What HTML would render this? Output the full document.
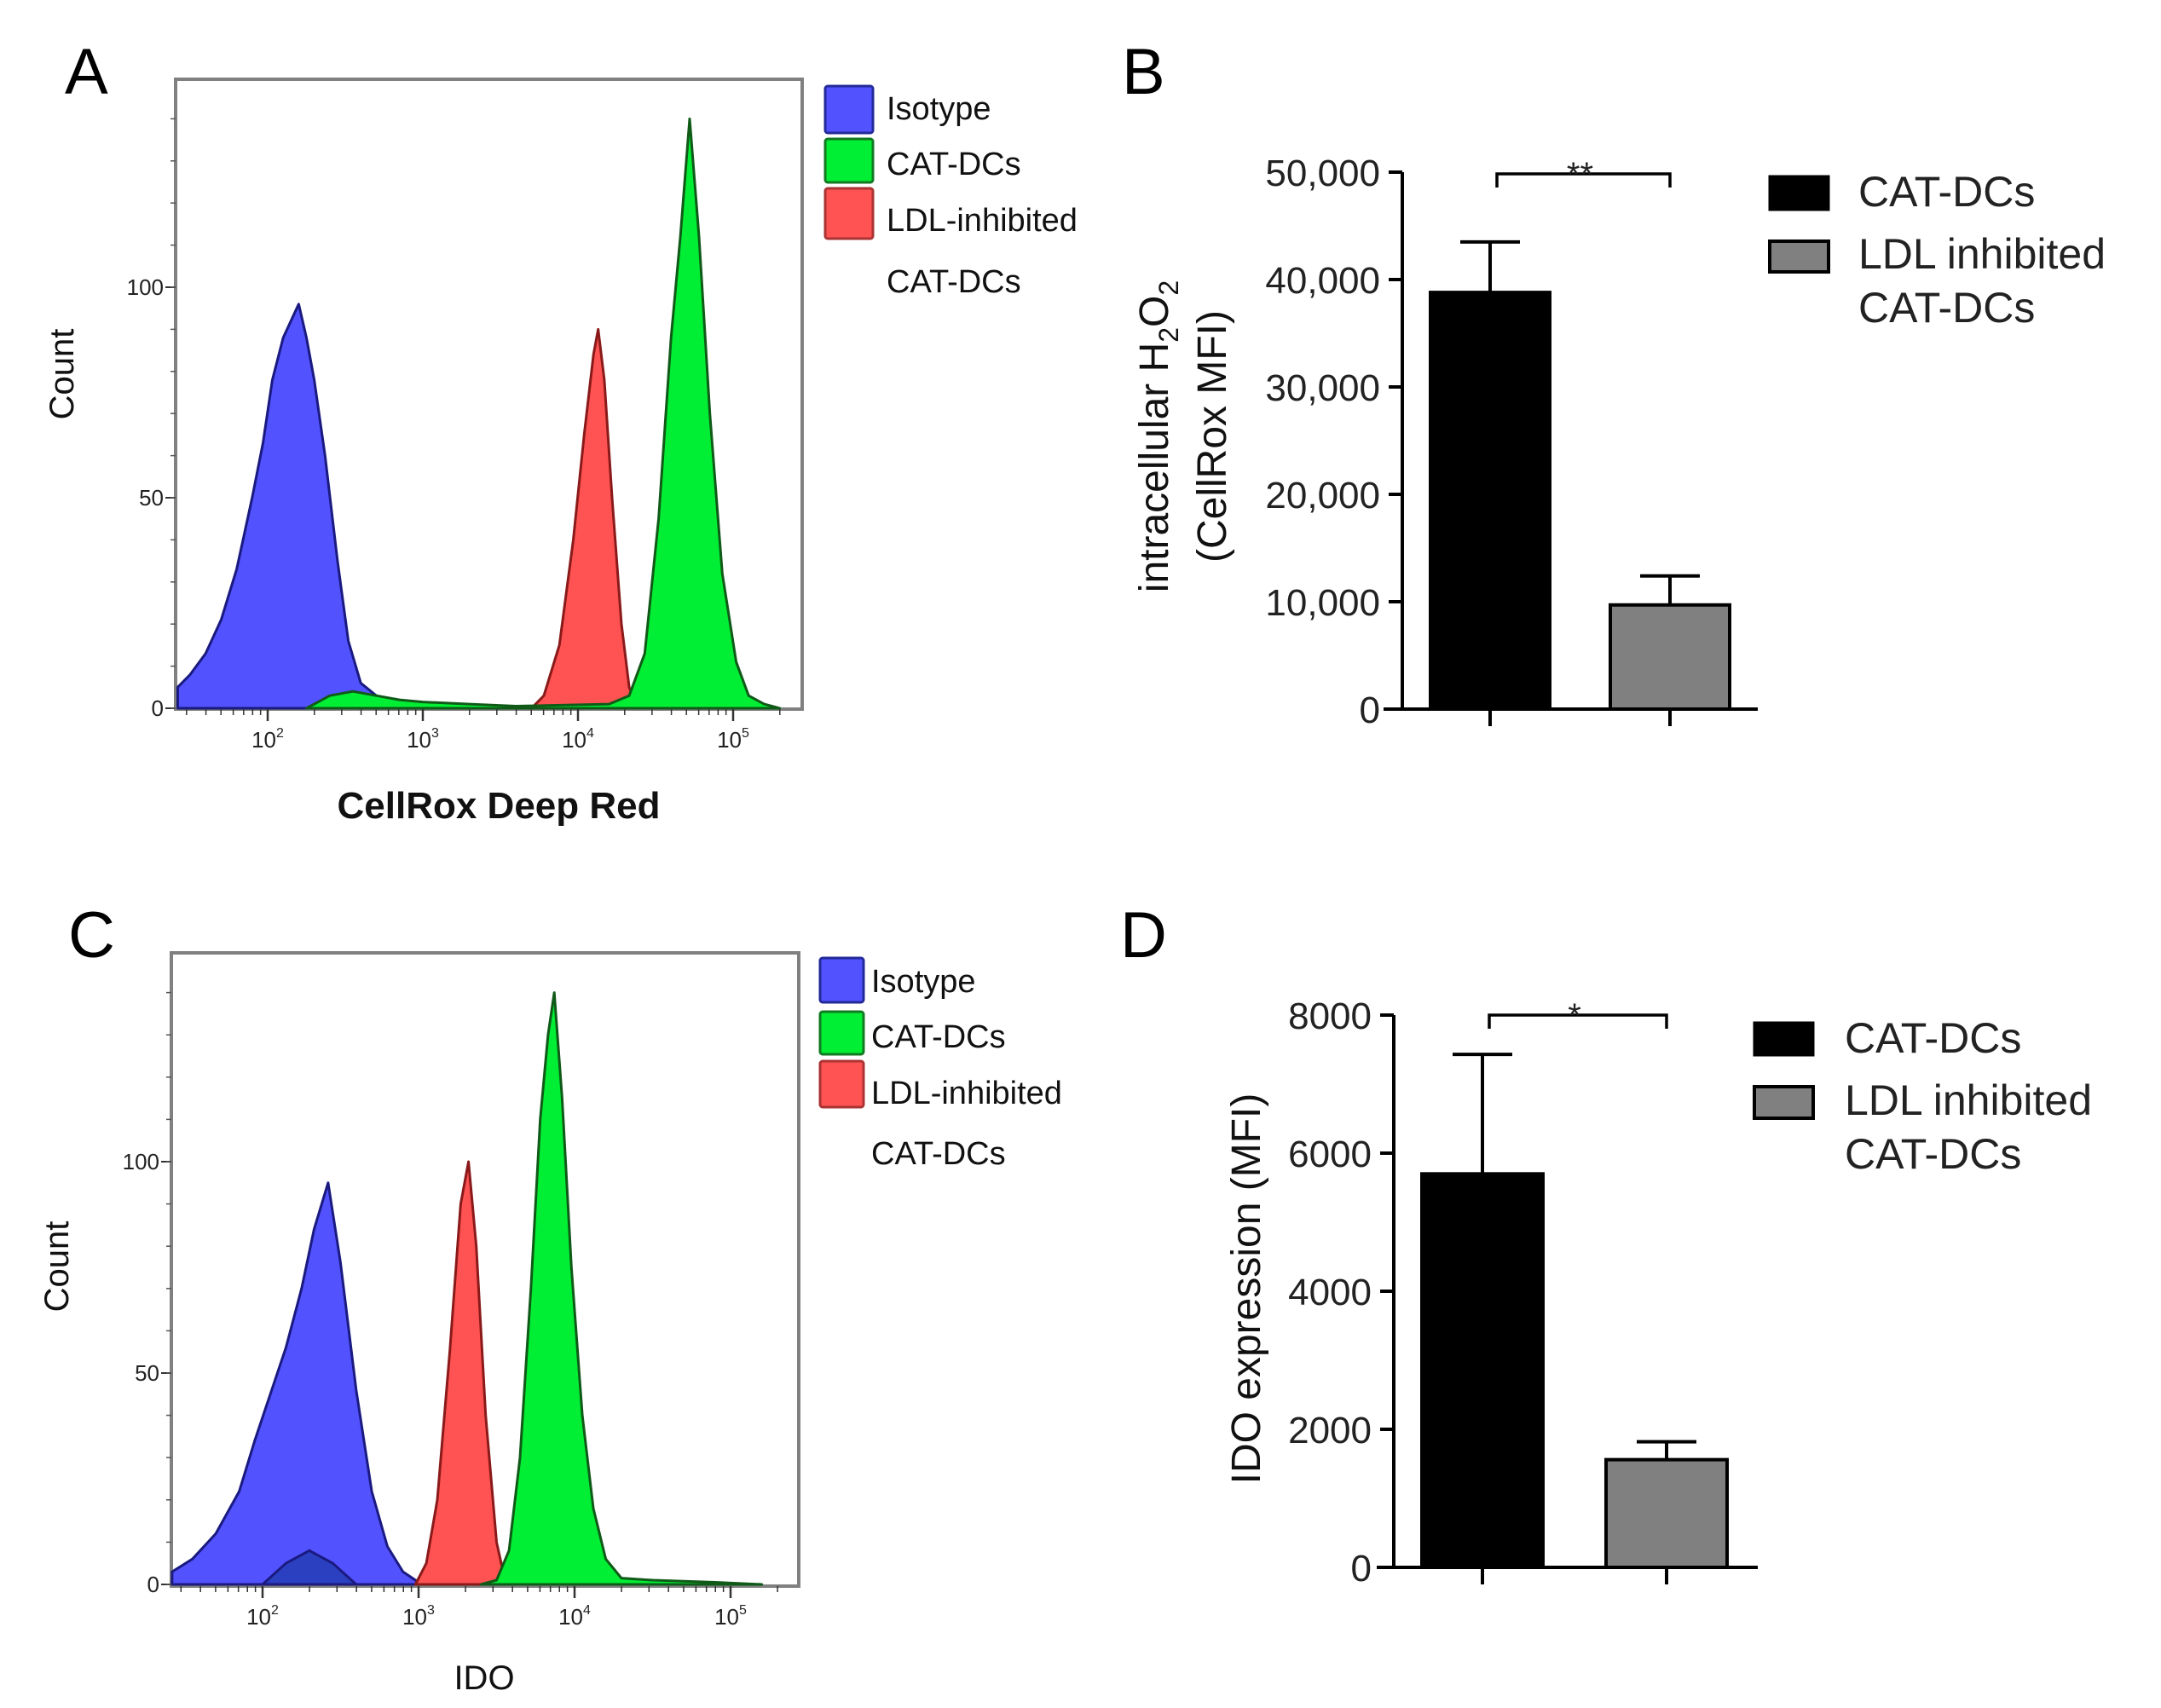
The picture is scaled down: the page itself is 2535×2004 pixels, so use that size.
<!DOCTYPE html>
<html><head><meta charset="utf-8"><style>
html,body{margin:0;padding:0;background:#fff;}
svg{display:block;font-family:"Liberation Sans",Arial,sans-serif;}
</style></head><body>
<svg id="fig" width="2535" height="2004" viewBox="0 0 2535 2004" xmlns="http://www.w3.org/2000/svg"></svg>
<script>
// ---------- data ----------
const decadeTicks = [2, 3, 4, 5];
const countTicks = [0, 50, 100];
// Panel A histograms: [log10 intensity, count]
const aIsotype = [[1.42,5],[1.5,8],[1.6,13],[1.7,21],[1.8,33],[1.9,50],[1.97,63],[2.03,78],[2.1,88],[2.15,92],[2.2,96],[2.25,88],[2.3,78],[2.37,60],[2.45,35],[2.52,16],[2.6,6],[2.7,3],[2.85,1.5],[3.0,1],[3.3,0.5],[3.6,0]];
const aCat = [[2.25,0],[2.4,3],[2.55,4],[2.7,3],[2.85,2],[3.0,1.5],[3.3,1],[3.6,0.5],[4.2,1],[4.33,3],[4.43,13],[4.52,45],[4.6,88],[4.66,112],[4.72,140],[4.78,112],[4.85,70],[4.93,32],[5.02,11],[5.1,3],[5.2,1],[5.3,0]];
const aLdl = [[3.7,0],[3.78,3],[3.88,15],[3.97,40],[4.04,65],[4.1,84],[4.13,90],[4.17,78],[4.22,50],[4.28,20],[4.33,5],[4.38,0]];
// Panel C histograms
const cIsotype = [[1.42,3],[1.55,6],[1.7,12],[1.85,22],[1.95,34],[2.05,45],[2.15,56],[2.25,70],[2.33,84],[2.42,95],[2.5,76],[2.6,46],[2.7,22],[2.8,9],[2.9,3],[3.0,0.5],[3.05,0]];
const cIsoOverlap = [[2.0,0],[2.15,5],[2.3,8],[2.45,5],[2.6,0]];
const cLdl = [[2.98,0],[3.05,5],[3.12,20],[3.2,55],[3.27,90],[3.32,100],[3.37,80],[3.43,40],[3.5,10],[3.56,0]];
const cCat = [[3.4,0],[3.5,1],[3.58,8],[3.65,30],[3.72,70],[3.78,110],[3.83,130],[3.87,140],[3.92,115],[3.98,75],[4.05,40],[4.12,18],[4.2,6],[4.3,1.5],[4.5,1],[4.9,0.5],[5.2,0]];
// Panel B bars
const bCategories = ["CAT-DCs", "LDL inhibited CAT-DCs"];
const bMeans = [38800, 9700];
const bErrors = [4700, 2700];
const bTicks = [0, 10000, 20000, 30000, 40000, 50000];
const bTickLabels = ["0", "10,000", "20,000", "30,000", "40,000", "50,000"];
// Panel D bars
const dCategories = ["CAT-DCs", "LDL inhibited CAT-DCs"];
const dMeans = [5700, 1560];
const dErrors = [1730, 260];
const dTicks = [0, 2000, 4000, 6000, 8000];
const dTickLabels = ["0", "2000", "4000", "6000", "8000"];

const NS = "http://www.w3.org/2000/svg";
const svg = document.getElementById("fig");
function el(tag, attrs, parent, text){
  const e = document.createElementNS(NS, tag);
  for (const k in attrs) e.setAttribute(k, attrs[k]);
  if (text !== undefined) e.textContent = text;
  (parent || svg).appendChild(e);
  return e;
}

// ---------- histogram panel ----------
function histPanel(o){
  const g = el("g", {});
  
  
  const xs = v => o.x10_2 + (v - 2) * o.dec;
  const ys = c => o.y0 - c * o.unit;
  // frame
  const fr = el("rect", {x:o.fl, y:o.ft, width:o.fr-o.fl, height:o.fb-o.ft, fill:"#fff", stroke:"#808080", "stroke-width":4}, g);
  
  
  function drawSeries(pts, fill, stroke, nm){
    let d = "M" + xs(pts[0][0]) + "," + o.y0;
    pts.forEach(p => { d += " L" + xs(p[0]).toFixed(1) + "," + ys(p[1]).toFixed(1); });
    d += " L" + xs(pts[pts.length-1][0]) + "," + o.y0 + " Z";
    const p = el("path", {d:d, fill:fill, stroke:stroke, "stroke-width":3, "stroke-linejoin":"round"}, g);
    
    
  }
  o.series.forEach(s => drawSeries(s[0], s[1], s[2], s[3]));
  // y ticks
  countTicks.forEach(c => {
    el("line", {x1:o.fl-12, x2:o.fl, y1:ys(c), y2:ys(c), stroke:"#333", "stroke-width":2}, g);
    const t = el("text", {x:o.fl-14, y:ys(c)+9, "text-anchor":"end", "font-size":26, fill:"#222"}, g, String(c));
    
    
  });
  for (let c = 0; c <= 140; c += 10) el("line", {x1:o.fl-6, x2:o.fl, y1:ys(c), y2:ys(c), stroke:"#555", "stroke-width":1.5}, g);
  // x ticks (log minor)
  for (let dcd = 1; dcd <= 5; dcd++){
    for (let m = 1; m <= 9; m++){
      const v = dcd + Math.log10(m);
      const x = xs(v);
      if (x < o.fl || x > o.fr) continue;
      el("line", {x1:x, x2:x, y1:o.fb, y2:o.fb + (m===1?14:7), stroke:"#333", "stroke-width":m===1?2.5:1.5}, g);
    }
  }
  decadeTicks.forEach(dcd => {
    const t = el("text", {x:xs(dcd), y:o.fb+45, "text-anchor":"middle", "font-size":26, fill:"#222"}, g);
    
    
    t.appendChild(document.createTextNode("10"));
    el("tspan", {"font-size":16, dy:-12}, t, String(dcd));
  });
  // axis titles
  const xt = el("text", {x:o.xtx, y:o.xty, "text-anchor":"middle", "font-size":o.xtSize, "font-weight":o.xtBold?"bold":"normal", fill:"#111"}, g, o.xTitle);
  
  
  const yt = el("text", {x:0, y:0, transform:`translate(${o.ytx},${o.yty}) rotate(-90)`, "text-anchor":"middle", "font-size":40, fill:"#111"}, g, "Count");
  
  
  // panel letter
  const pl = el("text", {x:o.lx, y:o.ly, "font-size":76, fill:"#000"}, g, o.letter);
  
  
  // legend
  const lg = el("g", {}, g);
  
  
  const cols = [["#5252ff","#222a99"],["#00ee33","#127a22"],["#ff5252","#aa3333"]];
  const labs = ["Isotype","CAT-DCs","LDL-inhibited"];
  o.legRows.forEach((r, i) => {
    const sw = el("rect", {x:o.legX, y:r[0], width:o.legW, height:r[1]-r[0], fill:cols[i][0], stroke:cols[i][1], "stroke-width":3, rx:3}, lg);
    
    
    const t = el("text", {x:o.legTX, y:o.legTY[i]+13, "font-size":38, fill:"#111"}, lg, labs[i]);
    
    
  });
  const t4 = el("text", {x:o.legTX, y:o.legTY[3]+13, "font-size":38, fill:"#111"}, lg, "CAT-DCs");
  
  
}

histPanel({name:"panel-a-histogram", fl:206, fr:941, ft:93, fb:832, y0:831, unit:4.94, x10_2:314, dec:182,
  series:[[aIsotype,"#5252ff","#1a1a80","isotype-histogram"],[aLdl,"#ff5252","#8a1a1a","ldl-inhibited-histogram"],[aCat,"#00ee33","#105a18","cat-dcs-histogram"]],
  xTitle:"CellRox Deep Red", xtx:585, xty:960, xtSize:44, xtBold:true, ytx:86, yty:439, letter:"A", lx:76, ly:110,
  legX:968, legW:56, legRows:[[101,156],[163,214],[221,280]], legTX:1040, legTY:[127,192,258,330]});
histPanel({name:"panel-c-histogram", fl:201, fr:937, ft:1118, fb:1861, y0:1859, unit:4.96, x10_2:308, dec:183,
  series:[[cIsotype,"#5252ff","#1a1a80","isotype-histogram"],[cIsoOverlap,"#2a40c0","#1a1a80","isotype-overlap"],[cLdl,"#ff5252","#8a1a1a","ldl-inhibited-histogram"],[cCat,"#00ee33","#105a18","cat-dcs-histogram"]],
  xTitle:"IDO", xtx:568, xty:1982, xtSize:40, xtBold:false, ytx:80, yty:1486, letter:"C", lx:80, ly:1123,
  legX:962, legW:51, legRows:[[1124,1176],[1187,1237],[1245,1299]], legTX:1022, legTY:[1151,1216,1282,1353]});

// ---------- bar panel ----------
function barPanel(o){
  const g = el("g", {});
  
  
  const ys = v => o.y0 - (v / o.max) * (o.y0 - o.yTop);
  // bars
  o.means.forEach((m, i) => {
    const bx = o.barX[i];
    const cx = bx + o.barW/2;
    const eb = el("line", {x1:cx, x2:cx, y1:ys(m), y2:ys(m + o.errs[i]), stroke:"#000", "stroke-width":4}, g);
    
    
    const cap = el("line", {x1:cx-35, x2:cx+35, y1:ys(m + o.errs[i]), y2:ys(m + o.errs[i]), stroke:"#000", "stroke-width":4}, g);
    
    
    const r = el("rect", {x:bx, y:ys(m), width:o.barW, height:o.y0 - ys(m), fill:i===0?"#000":"#808080", stroke:"#000", "stroke-width":4}, g);
    
    
    el("line", {x1:cx, x2:cx, y1:o.y0, y2:o.y0+20, stroke:"#000", "stroke-width":4}, g);
  });
  // axes
  const ya = el("line", {x1:o.ax, x2:o.ax, y1:o.yTop, y2:o.y0, stroke:"#000", "stroke-width":4}, g);
  
  
  const xa = el("line", {x1:o.xaL, x2:o.xaR, y1:o.y0, y2:o.y0, stroke:"#000", "stroke-width":4}, g);
  
  
  o.ticks.forEach((v, i) => {
    el("line", {x1:o.ax-16, x2:o.ax, y1:ys(v), y2:ys(v), stroke:"#000", "stroke-width":4}, g);
    const t = el("text", {x:o.ax-26, y:ys(v)+16, "text-anchor":"end", "font-size":44, fill:"#222"}, g, o.tickLabels[i]);
    
    
  });
  // significance bracket
  const c1 = o.barX[0] + o.barW/2, c2 = o.barX[1] + o.barW/2;
  const br = el("path", {d:`M${c1+8},${o.brY+16} L${c1+8},${o.brY} L${c2},${o.brY} L${c2},${o.brY+16}`, fill:"none", stroke:"#000", "stroke-width":3.5}, g);
  
  
  const st = el("text", {x:(c1+c2)/2, y:o.brY+14, "text-anchor":"middle", "font-size":40, fill:"#222"}, g, o.stars);
  
  
  // y title
  const yt = el("text", {x:0, y:0, transform:`translate(${o.ytx},${o.yty}) rotate(-90)`, "text-anchor":"middle", "font-size":48, fill:"#111"}, g);
  
  
  o.ytFn(yt);
  // letter
  const pl = el("text", {x:o.lx, y:o.ly, "font-size":76, fill:"#000"}, g, o.letter);
  
  
  // legend
  const lg = el("g", {}, g);
  
  
  const s1 = el("rect", {x:o.legX, y:o.sw1[0], width:o.legW, height:o.sw1[1]-o.sw1[0], fill:"#000", stroke:"#000", "stroke-width":3}, lg);
  
  
  const s2 = el("rect", {x:o.legX, y:o.sw2[0], width:o.legW, height:o.sw2[1]-o.sw2[0], fill:"#808080", stroke:"#000", "stroke-width":4}, lg);
  
  
  const lines = [o.cats[0], "LDL inhibited", "CAT-DCs"];
  lines.forEach((s, i) => {
    const t = el("text", {x:o.legTX, y:o.legTY[i]+18, "font-size":50, fill:"#222"}, lg, s);
    
    
  });
}

barPanel({name:"panel-b-bar-chart", means:bMeans, errs:bErrors, cats:bCategories, ticks:bTicks, tickLabels:bTickLabels, max:50000,
  y0:832, yTop:202, ax:1645, xaL:1623, xaR:2062, barX:[1678,1889], barW:140, brY:204, stars:"**",
  ytx:1370, yty:512, ytFn:function(t){
    el("tspan", {x:0, dy:0}, t, "intracellular H");
    el("tspan", {"font-size":32, dy:12}, t, "2");
    el("tspan", {dy:-12}, t, "O");
    el("tspan", {"font-size":32, dy:12}, t, "2");
    el("tspan", {x:0, dy:56}, t, "(CellRox MFI)");
  },
  letter:"B", lx:1316, ly:110, legX:2076, legW:69, sw1:[207,246], sw2:[283,319], legTX:2180, legTY:[224,297,360]});
barPanel({name:"panel-d-bar-chart", means:dMeans, errs:dErrors, cats:dCategories, ticks:dTicks, tickLabels:dTickLabels, max:8000,
  y0:1839, yTop:1191, ax:1635, xaL:1615, xaR:2062, barX:[1668,1884], barW:142, brY:1191, stars:"*",
  ytx:1478, yty:1512, ytFn:function(t){ t.textContent = "IDO expression (MFI)"; },
  letter:"D", lx:1314, ly:1123, legX:2058, legW:69, sw1:[1200,1238], sw2:[1275,1312], legTX:2164, legTY:[1217,1290,1353]});
</script>
</body></html>
